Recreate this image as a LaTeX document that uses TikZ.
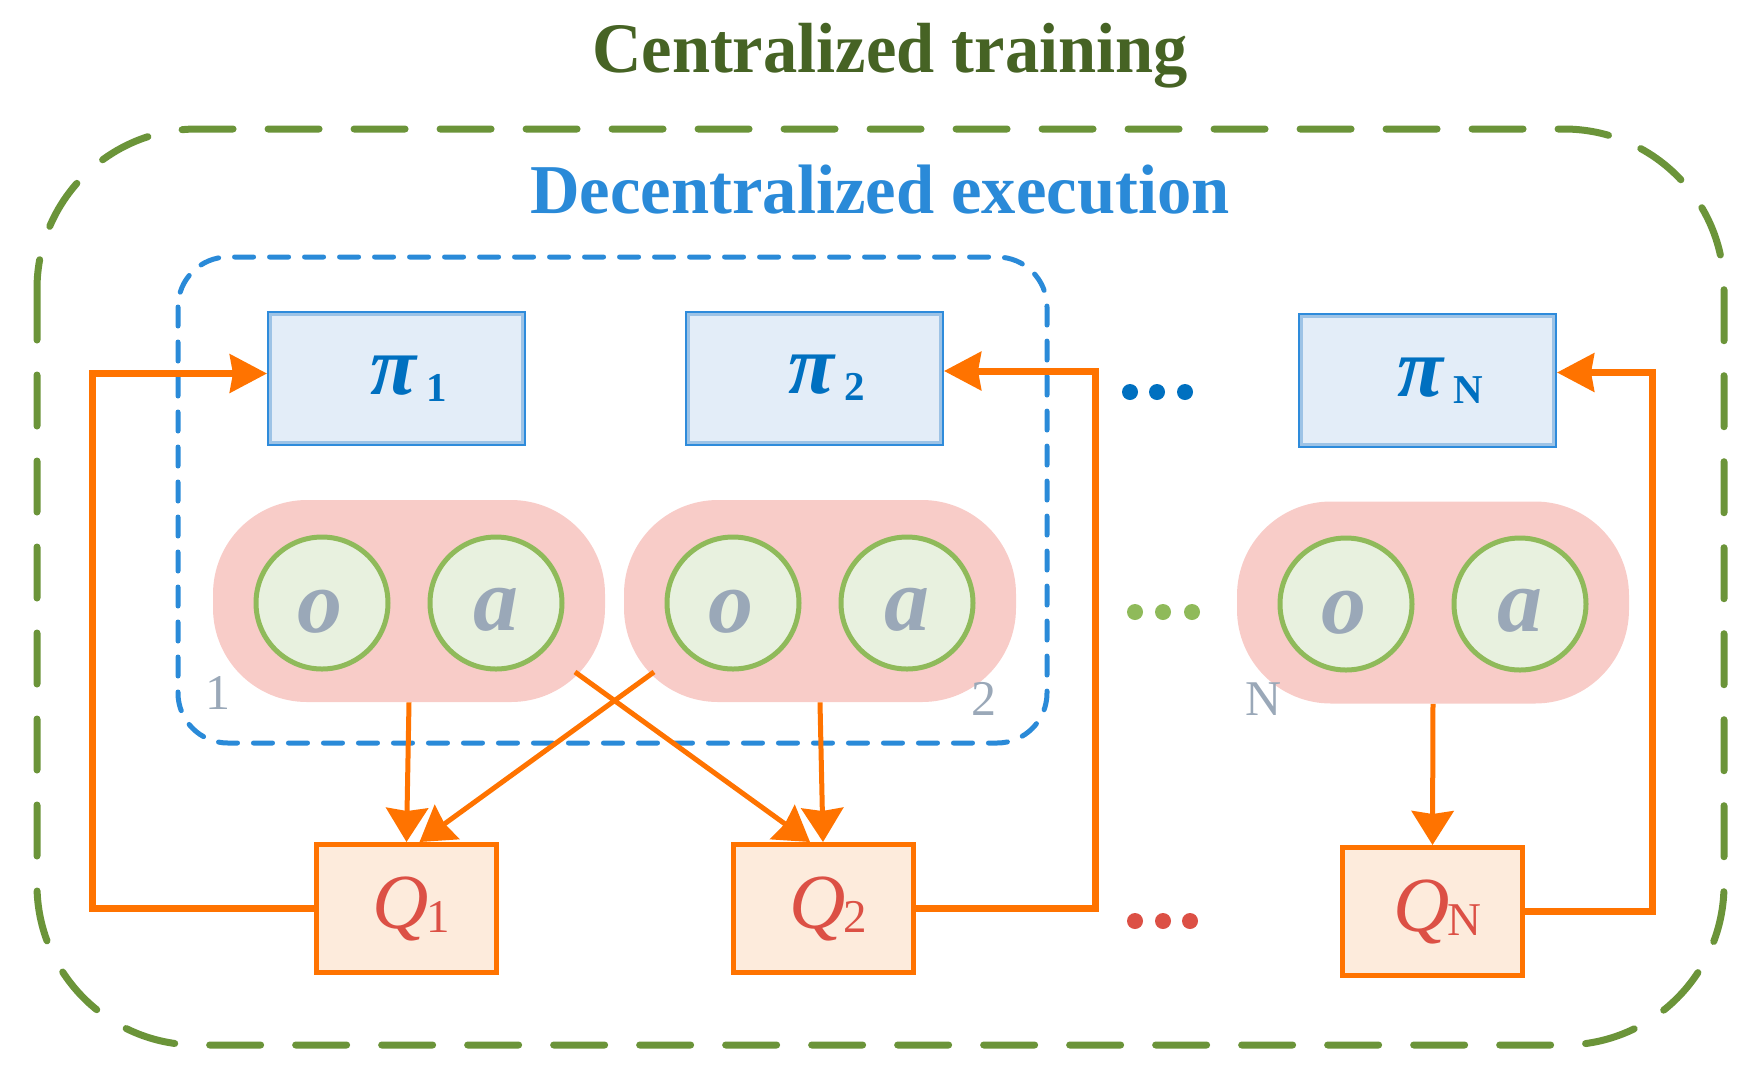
\documentclass[tikz,border=0pt]{standalone}
\usepackage{fontspec}
\setmainfont{Liberation Serif}
\usetikzlibrary{arrows.meta,calc}
\definecolor{gdash}{HTML}{6B9439}
\definecolor{tgreen}{HTML}{466324}
\definecolor{bdash}{HTML}{2A8AD8}
\definecolor{pitext}{HTML}{0070C0}
\definecolor{pifill}{HTML}{E3EDF8}
\definecolor{piband}{HTML}{9DC3E6}
\definecolor{piborder}{HTML}{2E8BDB}
\definecolor{capfill}{HTML}{F8CCC8}
\definecolor{cfill}{HTML}{E8F1DF}
\definecolor{cborder}{HTML}{8FBA5A}
\definecolor{greyt}{HTML}{9AA8B8}
\definecolor{orng}{HTML}{FF7300}
\definecolor{qfill}{HTML}{FDEBDC}
\definecolor{qtext}{HTML}{DC5045}
\newcommand\pitxt[1]{\hspace*{12.5pt}{\fontsize{42pt}{42pt}\selectfont\bfseries\itshape π}\hspace{5pt}\raisebox{-3.5pt}{\fontsize{20.5pt}{20pt}\selectfont\bfseries #1}}
\newcommand\qtxt[1]{\hspace*{5pt}{\itshape Q}\hspace{-1pt}\raisebox{-2pt}{\fontsize{23.5pt}{24pt}\selectfont #1}}
\begin{document}
\begin{tikzpicture}[x=0.5pt,y=-0.5pt,
  pibox/.style={rectangle, fill=pifill, draw=piborder, line width=1pt, minimum width=128.5pt, minimum height=66.5pt, inner sep=0pt, text=pitext},
  capsule/.style={rectangle, fill=capfill, rounded corners=47pt, minimum width=196pt, minimum height=101pt, inner sep=0pt},
  circ/.style={circle, fill=cfill, draw=cborder, line width=2.5pt, minimum size=66pt, inner sep=0pt},
  letter/.style={font=\fontsize{45pt}{45pt}\selectfont\bfseries\itshape, text=greyt, inner sep=0pt, anchor=base},
  lab/.style={font=\fontsize{25pt}{25pt}\selectfont, text=greyt, inner sep=0pt, anchor=base},
  qbox/.style={rectangle, fill=qfill, draw=orng, line width=2.5pt, minimum width=90pt, minimum height=64pt, inner sep=0pt, text=qtext, font=\fontsize{39pt}{39pt}\selectfont},
  dot/.style={circle, inner sep=0pt, minimum size=8pt},
  fb/.style={draw=orng, line width=3.5pt, -{Stealth[length=18.5pt,width=19pt,inset=1.5pt]}},
  ar/.style={draw=orng, line width=2.5pt, -{Stealth[length=17pt,width=21pt,inset=1.5pt]}}
]
\useasboundingbox (0,0) rectangle (1758,1084);

% frames
\draw[gdash, line width=3.5pt, dash pattern=on 25.5pt off 17.5pt, line cap=round, rounded corners=80pt] (37,129) rectangle (1724,1045);
\draw[bdash, line width=2.5pt, dash pattern=on 9.5pt off 8pt, line cap=round, rounded corners=25pt] (178,257) rectangle (1047,743);

% titles
\node[font=\fontsize{35.5pt}{36pt}\selectfont\bfseries, text=tgreen, anchor=base, inner sep=0pt] (title) at (890,72) {\scalebox{0.965}[1]{Centralized training}};
\node[font=\fontsize{35pt}{36pt}\selectfont\bfseries, text=bdash, anchor=base, inner sep=0pt] (dtitle) at (880,213) {\scalebox{0.98}[1]{Decentralized execution}};

% policy boxes
\node[pibox] (pi1) at (396.5,378.5) {\pitxt{1}};
\node[pibox] (pi2) at (814.5,378) {\pitxt{2}};
\node[pibox] (piN) at (1427.5,380.5) {\pitxt{N}};
\foreach \n in {pi1,pi2,piN}{
  \draw[piband, line width=1.5pt] ($(\n.south west)+(3.5,-3.5)$) rectangle ($(\n.north east)+(-3.5,3.5)$);
}

% capsules
\node[capsule] (cap1) at (409,601) {};
\node[capsule] (cap2) at (820,601) {};
\node[capsule] (capN) at (1433,602.5) {};
\node[circ] (o1) at (322,603) {};
\node[circ] (a1) at (496,603) {};
\node[circ] (o2) at (733,603) {};
\node[circ] (a2) at (907,603) {};
\node[circ] (oN) at (1346,604) {};
\node[circ] (aN) at (1520,604) {};
\node[letter] (o1t) at (320,632) {o};
\node[letter] (a1t) at (496,630) {a};
\node[letter] (o2t) at (731,632) {o};
\node[letter] (a2t) at (907,630) {a};
\node[letter] (oNt) at (1344,633) {o};
\node[letter] (aNt) at (1520,631) {a};
\node[lab] (l1) at (218,709) {1};
\node[lab] (l2) at (984,715) {2};
\node[lab] (lN) at (1264,715) {N};

% dots
\foreach \x [count=\i] in {1130,1157,1185}{\node[dot, fill=pitext] (bd\i) at (\x,392) {};}
\foreach \x [count=\i] in {1135,1163,1192}{\node[dot, fill=cborder] (gd\i) at (\x,612) {};}
\foreach \x [count=\i] in {1135,1163,1190}{\node[dot, fill=qtext] (rd\i) at (\x,921) {};}

% critics
\node[qbox] (Q1) at (406.5,908.5) {\qtxt{1}};
\node[qbox] (Q2) at (823,908.5) {\qtxt{2}};
\node[qbox] (QN) at (1432.5,911.5) {\qtxt{N}};

% connectors
\coordinate (k1) at (92,640);
\coordinate (k2) at (1095,640);
\coordinate (kN) at (1652,640);
\draw[fb] (Q1.west) -| (k1) |- ([yshift=2.5pt]pi1.west);
\draw[fb] (Q2.east) -| (k2) |- ([yshift=3.5pt]pi2.east);
\draw[fb] (QN.east) -| (kN) |- ([yshift=4pt]piN.east);

\coordinate (c1x) at (575,672);
\coordinate (c2x) at (654,672);
\draw[ar] (cap1.south) -- (Q1.north);
\draw[ar] (cap2.south) -- (Q2.north);
\draw[ar] (capN.south) -- (QN.north);
\draw[ar] (c1x) -- ([xshift=-6.5pt]Q2.north);
\draw[ar] (c2x) -- ([xshift=6.5pt]Q1.north);
\end{tikzpicture}
\end{document}
